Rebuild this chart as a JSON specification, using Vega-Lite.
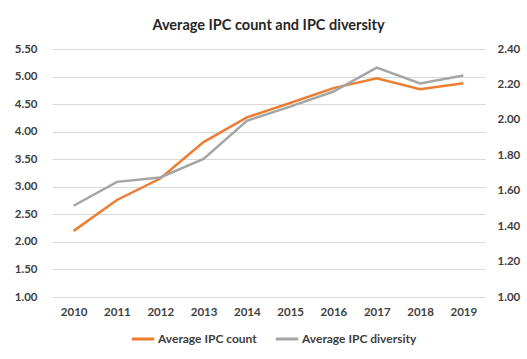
{
  "$schema": "https://vega.github.io/schema/vega-lite/v6.json",
  "width": 433,
  "height": 248,
  "autosize": "none",
  "padding": {"left": 52, "top": 49, "right": 42, "bottom": 62},
  "background": "white",
  "title": {"text": "Average IPC count and IPC diversity", "fontSize": 14.5, "fontWeight": "bold", "font": "Lato", "color": "#262626", "offset": 10, "anchor": "middle"},
  "config": {
    "view": {"stroke": null},
    "axis": {"labelFont": "Lato", "labelFontSize": 11.5, "labelFontWeight": "bold", "labelColor": "#404040", "ticks": false, "domain": false, "title": null}
  },
  "data": {"values": [
    {"year": "2010", "series": "Average IPC count", "value": 2.20},
    {"year": "2011", "series": "Average IPC count", "value": 2.76},
    {"year": "2012", "series": "Average IPC count", "value": 3.15},
    {"year": "2013", "series": "Average IPC count", "value": 3.81},
    {"year": "2014", "series": "Average IPC count", "value": 4.26},
    {"year": "2015", "series": "Average IPC count", "value": 4.52},
    {"year": "2016", "series": "Average IPC count", "value": 4.79},
    {"year": "2017", "series": "Average IPC count", "value": 4.97},
    {"year": "2018", "series": "Average IPC count", "value": 4.77},
    {"year": "2019", "series": "Average IPC count", "value": 4.88},
    {"year": "2010", "series": "Average IPC diversity", "value": 1.515},
    {"year": "2011", "series": "Average IPC diversity", "value": 1.65},
    {"year": "2012", "series": "Average IPC diversity", "value": 1.675},
    {"year": "2013", "series": "Average IPC diversity", "value": 1.78},
    {"year": "2014", "series": "Average IPC diversity", "value": 1.995},
    {"year": "2015", "series": "Average IPC diversity", "value": 2.075},
    {"year": "2016", "series": "Average IPC diversity", "value": 2.16},
    {"year": "2017", "series": "Average IPC diversity", "value": 2.295},
    {"year": "2018", "series": "Average IPC diversity", "value": 2.205},
    {"year": "2019", "series": "Average IPC diversity", "value": 2.25}
  ]},
  "encoding": {
    "x": {"field": "year", "type": "ordinal", "scale": {"type": "point", "padding": 0.5}, "axis": {"labelAngle": 0, "labelPadding": 9, "grid": false}},
    "color": {"field": "series", "type": "nominal", "scale": {"domain": ["Average IPC count", "Average IPC diversity"], "range": ["#ED7D31", "#A5A5A5"]},
      "legend": {"title": null, "orient": "none", "legendX": 78, "legendY": 277, "direction": "horizontal", "symbolType": "stroke", "symbolStrokeWidth": 3, "symbolSize": 500, "labelFont": "Lato", "labelFontSize": 12, "labelFontWeight": "bold", "labelColor": "#404040", "labelOffset": 2, "columnPadding": 12}}
  },
  "layer": [
    {
      "transform": [{"filter": "datum.series === 'Average IPC count'"}],
      "mark": {"type": "line", "strokeWidth": 2.5},
      "encoding": {
        "y": {"field": "value", "type": "quantitative", "scale": {"domain": [1, 5.5], "nice": false, "zero": false},
          "axis": {"orient": "left", "values": [1, 1.5, 2, 2.5, 3, 3.5, 4, 4.5, 5, 5.5], "format": ".2f", "labelPadding": 15, "grid": true, "gridColor": "#D9D9D9", "gridWidth": 1}}
      }
    },
    {
      "transform": [{"filter": "datum.series === 'Average IPC diversity'"}],
      "mark": {"type": "line", "strokeWidth": 2.5},
      "encoding": {
        "y": {"field": "value", "type": "quantitative", "scale": {"domain": [1, 2.4], "nice": false, "zero": false},
          "axis": {"orient": "right", "values": [1, 1.2, 1.4, 1.6, 1.8, 2, 2.2, 2.4], "format": ".2f", "labelPadding": 12, "grid": false}}
      }
    }
  ],
  "resolve": {"scale": {"y": "independent"}}
}
